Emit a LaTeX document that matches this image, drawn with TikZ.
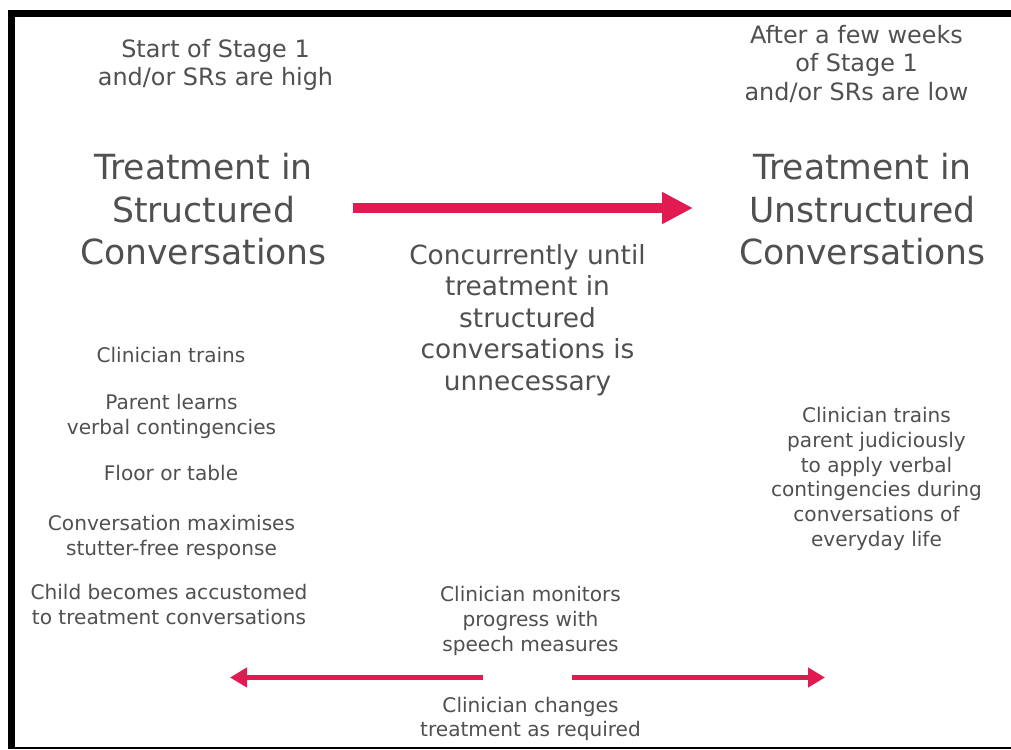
\documentclass[tikz,border=0pt]{standalone}
\usepackage{fontspec}
\setmainfont{DejaVu Sans}
\usetikzlibrary{arrows.meta}
\definecolor{txt}{RGB}{80,80,80}
\definecolor{pinkred}{RGB}{226,26,82}
\tikzset{
  lbl/.style={align=center, text=txt, inner sep=0pt},
  title/.style={lbl, font=\fontsize{34.6}{42.5}\selectfont},
  sub/.style={lbl, font=\fontsize{23.9}{28.5}\selectfont},
  mid/.style={lbl, font=\fontsize{26.4}{31.5}\selectfont},
  small/.style={lbl, font=\fontsize{20.1}{24.8}\selectfont},
  bigarrow/.style={pinkred, line width=10pt, -{Triangle[length=31pt,width=30pt]}},
  smallarrow/.style={pinkred, line width=5.5pt, -{Triangle[length=17pt,width=19pt]}},
}
\begin{document}
\begin{tikzpicture}[x=1pt,y=-1pt]
\useasboundingbox (0,0) rectangle (1011,749);
\fill[white] (0,0) rectangle (1011,749);
% frame
\fill[black] (8,10) rectangle (1011,17);
\fill[black] (8,10) rectangle (15,749);
\fill[black] (8,746.5) rectangle (1011,748.5);

\node[sub] (startL) at (215.5,65) {Start of Stage 1\\and/or SRs are high};
\node[sub] (startR) at (856.5,64) {After a few weeks\\of Stage 1\\and/or SRs are low};

\node[title] (treatS) at (203.5,209.5) {Treatment in\\Structured\\Conversations};
\node[title] (treatU) at (862.5,209.5) {Treatment in\\Unstructured\\Conversations};

\node[mid] (conc) at (527.5,320) {Concurrently until\\treatment in\\structured\\conversations is\\unnecessary};

\node[small] (l1) at (171,355) {Clinician trains};
\node[small] (l2) at (171.5,416.5) {Parent learns\\verbal contingencies};
\node[small] (l3) at (171,473) {Floor or table};
\node[small] (l4) at (171.5,537.5) {Conversation maximises\\stutter-free response};
\node[small] (l5) at (169,604.5) {Child becomes accustomed\\to treatment conversations};

\node[small] (r1) at (876.5,479) {Clinician trains\\parent judiciously\\to apply verbal\\contingencies during\\conversations of\\everyday life};

\node[small] (mon) at (530.5,621) {Clinician monitors\\progress with\\speech measures};
\node[small] (chg) at (530.5,719) {Clinician changes\\treatment as required};

\coordinate (a1s) at (353,208);
\coordinate (a1e) at (693,208);
\draw[bigarrow] (a1s) -- (a1e);

\coordinate (a2s) at (483,677.5);
\coordinate (a2e) at (230,677.5);
\draw[smallarrow] (a2s) -- (a2e);

\coordinate (a3s) at (572,677.5);
\coordinate (a3e) at (825,677.5);
\draw[smallarrow] (a3s) -- (a3e);
\end{tikzpicture}
\end{document}
